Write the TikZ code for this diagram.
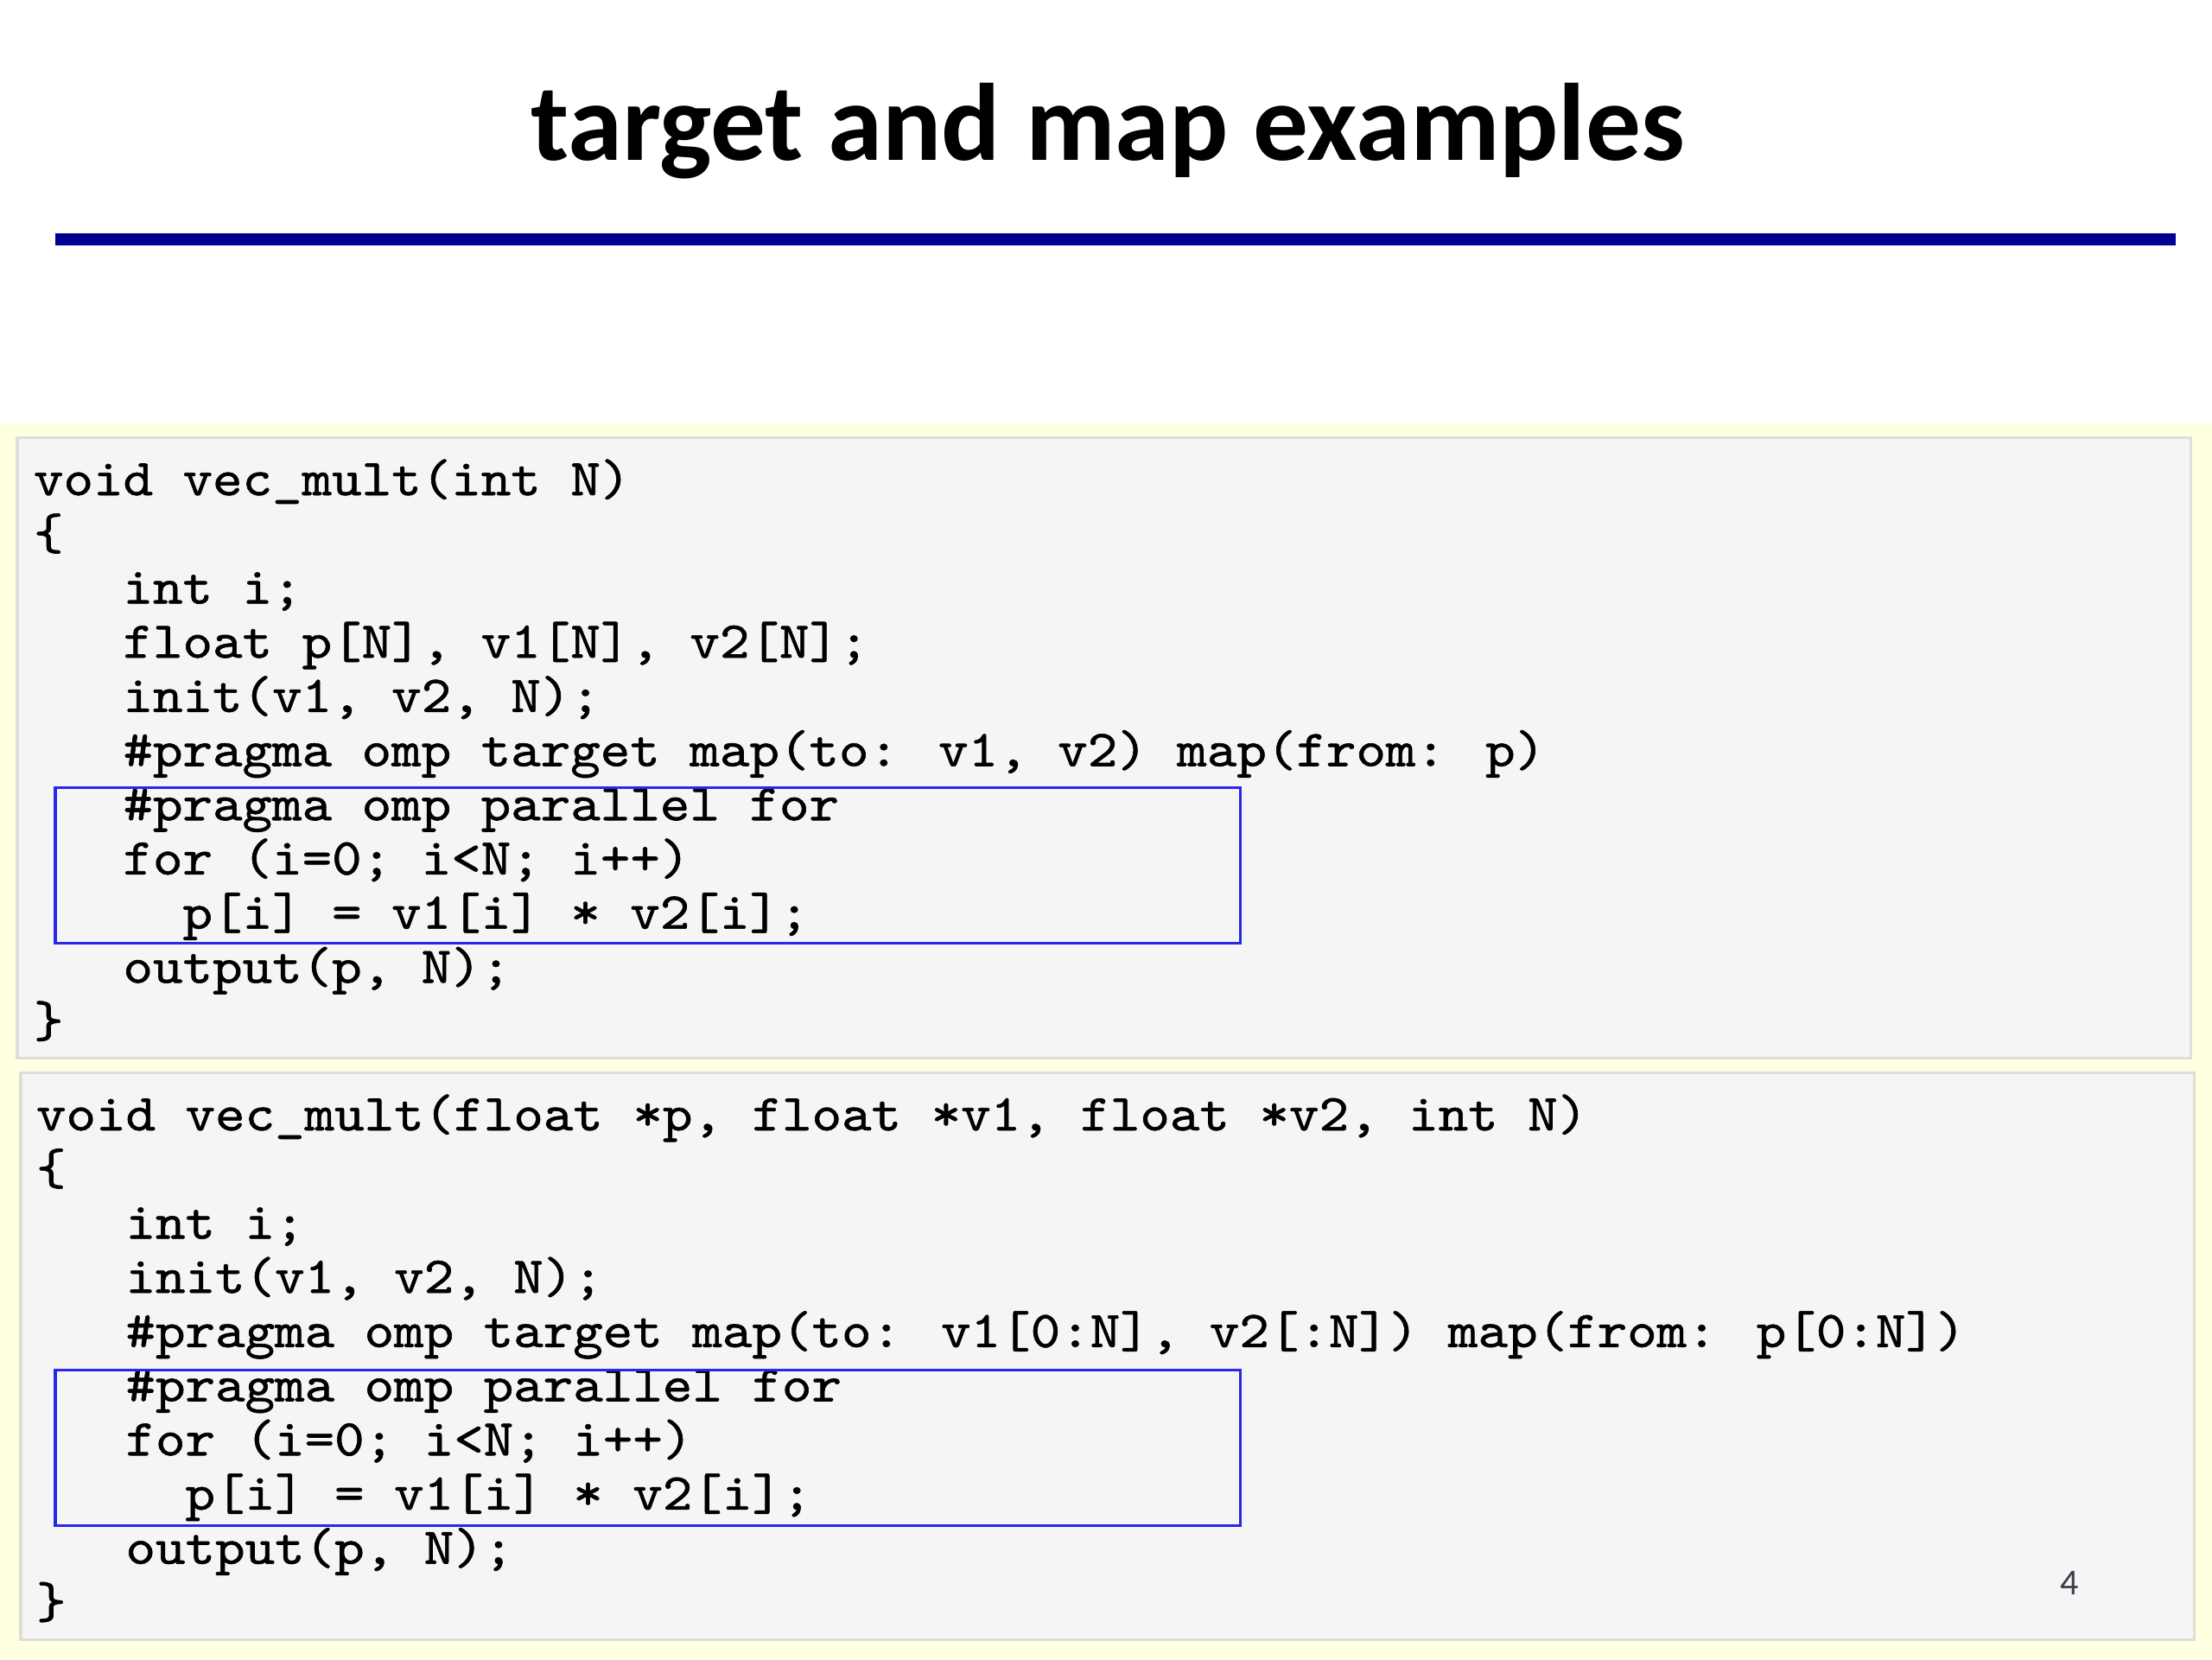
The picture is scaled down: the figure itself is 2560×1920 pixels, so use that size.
\documentclass[tikz,border=0pt]{standalone}
\usepackage{fontspec}
\newfontfamily\titlefont{Carlito}
\newfontfamily\codefont{lmmono10-regular.otf}[FakeStretch=1.1,FakeBold=1.0]
\definecolor{bandyellow}{RGB}{255,255,226}
\definecolor{codegray}{RGB}{245,245,245}
\definecolor{codeedge}{RGB}{222,222,214}
\definecolor{rulecol}{RGB}{0,0,145}
\definecolor{hlblue}{RGB}{40,40,235}
\definecolor{pagenum}{RGB}{60,60,72}
\tikzset{
  codeline/.style={anchor=base west,inner sep=0pt,outer sep=0pt,
    font=\codefont\fontsize{17}{18}\selectfont,text=black},
  codebox/.style={fill=codegray,draw=codeedge,line width=0.03cm},
  hlbox/.style={draw=hlblue,line width=0.03cm},
}
\begin{document}
\begin{tikzpicture}[x=0.01cm,y=-0.01cm]
\useasboundingbox (0,0) rectangle (2560,1920);
\fill[white] (0,0) rectangle (2560,1920);
% title
\node[anchor=base,inner sep=0pt,font=\titlefont\bfseries\fontsize{36.2}{40}\selectfont] (title) at (1282,185) {target and map examples};
\draw[rulecol,line width=0.14cm] (64,277) -- (2518,277);
% yellow band
\fill[bandyellow] (0,490) rectangle (2560,1920);
% code boxes
\draw[codebox] (20,506) rectangle (2535,1224);
\draw[codebox] (24,1241) rectangle (2539,1897);
% box 1 lines
\def\xa{39}
\def\cw{34.5}
\node[codeline] (a0) at (\xa,573) {void vec\_mult(int N)};
\node[codeline] (a1) at (\xa,635.7) {\{};
\node[codeline] (a2) at (\xa+3*\cw,698.4) {int i;};
\node[codeline] (a3) at (\xa+3*\cw,761.1) {float p[N], v1[N], v2[N];};
\node[codeline] (a4) at (\xa+3*\cw,823.8) {init(v1, v2, N);};
\node[codeline] (a5) at (\xa+3*\cw,886.5) {\#pragma omp target map(to: v1, v2) map(from: p)};
\node[codeline] (a6) at (\xa+3*\cw,949.2) {\#pragma omp parallel for};
\node[codeline] (a7) at (\xa+3*\cw,1011.9) {for (i=0; i<N; i++)};
\node[codeline] (a8) at (\xa+5*\cw,1074.6) {p[i] = v1[i] * v2[i];};
\node[codeline] (a9) at (\xa+3*\cw,1137.3) {output(p, N);};
\node[codeline] (a10) at (\xa,1200) {\}};
\draw[hlbox] (64,911) rectangle (1435,1091);
% box 2 lines
\def\xb{42}
\node[codeline] (b0) at (\xb,1308) {void vec\_mult(float *p, float *v1, float *v2, int N)};
\node[codeline] (b1) at (\xb,1370.7) {\{};
\node[codeline] (b2) at (\xb+3*\cw,1433.4) {int i;};
\node[codeline] (b3) at (\xb+3*\cw,1496.1) {init(v1, v2, N);};
\node[codeline] (b4) at (\xb+3*\cw,1558.8) {\#pragma omp target map(to: v1[0:N], v2[:N]) map(from: p[0:N])};
\node[codeline] (b5) at (\xb+3*\cw,1621.5) {\#pragma omp parallel for};
\node[codeline] (b6) at (\xb+3*\cw,1684.2) {for (i=0; i<N; i++)};
\node[codeline] (b7) at (\xb+5*\cw,1746.9) {p[i] = v1[i] * v2[i];};
\node[codeline] (b8) at (\xb+3*\cw,1809.6) {output(p, N);};
\node[codeline] (b9) at (\xb,1872.3) {\}};
\draw[hlbox] (64,1585) rectangle (1435,1765);
% page number
\node[inner sep=0pt,font=\titlefont\fontsize{12}{14}\selectfont,text=pagenum] (pnum) at (2395,1832) {4};
\end{tikzpicture}
\end{document}
